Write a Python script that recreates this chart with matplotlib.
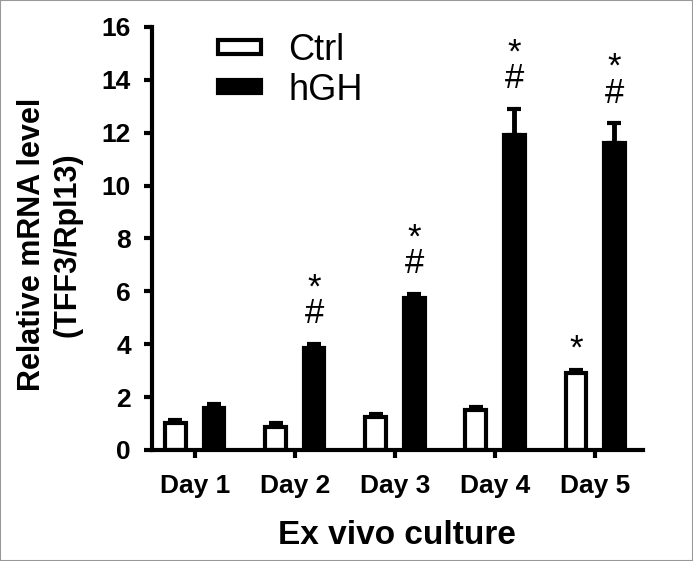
import numpy as np
import matplotlib.pyplot as plt
from matplotlib.patches import Rectangle

# data
days = ['Day 1', 'Day 2', 'Day 3', 'Day 4', 'Day 5']
ctrl = [1.0, 0.88, 1.25, 1.5, 2.9]
ctrl_err = [0.12, 0.15, 0.12, 0.12, 0.12]
hgh = [1.6, 3.85, 5.75, 11.9, 11.6]
hgh_err = [0.12, 0.15, 0.15, 1.0, 0.75]
ctrl_marks = ['', '', '', '', '*']
hgh_marks = ['', '*\n#', '*\n#', '*\n#', '*\n#']

plt.rcParams['font.family'] = ['Liberation Sans', 'DejaVu Sans']

fig = plt.figure(figsize=(6.93, 5.61), dpi=100)
ax = fig.add_axes([0.219, 0.198, 0.709, 0.754])

x = np.arange(len(days))
w = 0.205
off = 0.193

ax.bar(x - off, ctrl, w, color='white', edgecolor='black', linewidth=3, label='Ctrl', zorder=2)
ax.bar(x + off, hgh, w, color='black', edgecolor='black', linewidth=3, label='hGH', zorder=2)

ekw = dict(fmt='none', ecolor='black', elinewidth=3.5, capsize=4.7, capthick=3, zorder=1)
ax.errorbar(x - off, ctrl, yerr=[np.zeros(len(ctrl)), ctrl_err], **ekw)
ax.errorbar(x + off, hgh, yerr=[np.zeros(len(hgh)), hgh_err], **ekw)

# significance marks
for i in range(len(days)):
    if ctrl_marks[i]:
        ax.annotate(ctrl_marks[i], (x[i] - off, ctrl[i] + ctrl_err[i]), xytext=(0, 3),
                    textcoords='offset points', ha='center', va='bottom', fontsize=25)
    if hgh_marks[i]:
        ax.annotate(hgh_marks[i], (x[i] + off, hgh[i] + hgh_err[i]), xytext=(0, 10),
                    textcoords='offset points', ha='center', va='bottom', fontsize=25,
                    linespacing=0.72, multialignment='center')

ax.set_xlim(-0.43, 4.48)
ax.set_ylim(0, 16)
ax.set_yticks(range(0, 17, 2))
ax.set_xticks(x)
ax.set_xticklabels(days)

for s in ['top', 'right']:
    ax.spines[s].set_visible(False)
for s in ['left', 'bottom']:
    ax.spines[s].set_linewidth(3)
ax.tick_params(width=3, length=6, labelsize=19)
ax.tick_params(axis='y', pad=9)
ax.tick_params(axis='x', pad=11)
for lab in ax.get_xticklabels() + ax.get_yticklabels():
    lab.set_fontweight('bold')

ax.set_xlabel('Ex vivo culture', fontsize=24, fontweight='bold')
ax.xaxis.set_label_coords(0.5, -0.165)
ax.set_ylabel('Relative mRNA level\n(TFF3/Rpl13)', fontsize=22, fontweight='bold',
              linespacing=1.25)
ax.yaxis.set_label_coords(-0.14, 0.485)

ax.legend(loc='upper left', bbox_to_anchor=(0.134, 0.985), frameon=False, fontsize=26,
          handlelength=1.2, handleheight=0.2, handletextpad=0.75, labelspacing=0.12,
          borderpad=0, borderaxespad=0)

# gray frame around the figure
fig.patches.append(Rectangle((0, 0), 1, 1, transform=fig.transFigure, fill=False,
                             edgecolor='#999999', linewidth=1.5))

fig.savefig('out.png', dpi=100)
